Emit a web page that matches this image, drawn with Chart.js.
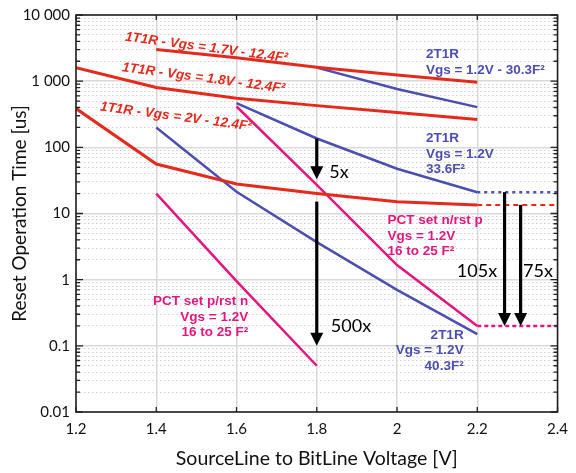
<!DOCTYPE html>
<html>
<head>
<meta charset="utf-8">
<script src="https://cdn.jsdelivr.net/npm/chart.js@4/dist/chart.umd.min.js"></script>
<style>
  body { margin: 0; background: #fff; }
  canvas { display: block; }
</style>
</head>
<body>
<canvas id="resetChart" width="576" height="473"></canvas>
<script>
// values
const xRed17 = [1.4, 1.6, 1.8, 2.0, 2.2];
const yRed17 = [3000, 2250, 1620, 1240, 965];
const xRed18 = [1.2, 1.4, 1.6, 1.8, 2.0, 2.2];
const yRed18 = [1600, 805, 550, 427, 335, 264];
const xRed20 = [1.2, 1.4, 1.6, 1.8, 2.0, 2.2];
const yRed20 = [385, 56, 28, 20, 15, 13.5];

const xBlue30 = [1.8, 2.0, 2.2];
const yBlue30 = [1600, 760, 405];
const xBlue33 = [1.6, 1.8, 2.0, 2.2];
const yBlue33 = [465, 136, 47.4, 21];
const xBlue40 = [1.4, 1.6, 1.8, 2.0, 2.2];
const yBlue40 = [200, 21.3, 3.7, 0.7, 0.15];

const xPctN = [1.6, 1.8, 2.0, 2.2];
const yPctN = [414, 27, 1.66, 0.2];
const xPctP = [1.4, 1.6, 1.8];
const yPctP = [20, 0.95, 0.05];

// flat extensions to the right of 2.2 V
const xExt = [2.2, 2.4];
const yExtBlue = [21, 21];
const yExtRed = [13.5, 13.5];
const yExtPink = [0.2, 0.2];

// arrows: x, start value, tip value
const arrowX = [1.8, 1.8, 2.268, 2.308];
const arrowFrom = [136, 15.1, 21, 13.5];
const arrowTo = [33, 0.1, 0.2, 0.2];

const xTicks = [1.2, 1.4, 1.6, 1.8, 2.0, 2.2, 2.4];
const yDecades = [0.01, 0.1, 1, 10, 100, 1000, 10000];
const yDecadeLabels = ['0.01', '0.1', '1', '10', '100', '1 000', '10 000'];

const RED = '#e42a1c';
const BLUE = '#4c4eb0';
const PINK = '#e3167f';

// every 1..9 x 10^n value between 0.01 and 10000
const yTickValues = [];
for (let i = 0; i < yDecades.length; i++) {
    if (i === yDecades.length - 1) { yTickValues.push(yDecades[i]); break; }
    for (let m = 1; m <= 9; m++) yTickValues.push(+(m * yDecades[i]).toPrecision(3));
}

function isDecade(v) {
    return yDecades.some(d => Math.abs(v - d) / d < 1e-6);
}

function pts(xs, ys) {
    return xs.map((x, i) => ({ x: x, y: ys[i] }));
}

function line(xs, ys, color, width, dash) {
    return {
        data: pts(xs, ys),
        borderColor: color,
        borderWidth: width,
        borderDash: dash || [],
        pointRadius: 0,
        tension: 0,
        fill: false
    };
}

// text annotations, anchored in data coordinates
const notes = [
    { x: 1.525, y: 3210, lines: ['1T1R - Vgs = 1.7V - 12.4F²'], color: RED, align: 'center', italic: true, rot: 7.5 },
    { x: 1.518, y: 1110, lines: ['1T1R - Vgs = 1.8V - 12.4F²'], color: RED, align: 'center', italic: true, rot: 7.5 },
    { x: 1.449, y: 290, lines: ['1T1R - Vgs = 2V - 12.4F²'], color: RED, align: 'center', italic: true, rot: 7.5 },
    { x: 2.072, y: 2530, lines: ['2T1R', 'Vgs = 1.2V - 30.3F²'], color: BLUE, align: 'left' },
    { x: 2.072, y: 136, lines: ['2T1R', 'Vgs = 1.2V', '33.6F²'], color: BLUE, align: 'left' },
    { x: 2.166, y: 0.146, lines: ['2T1R', 'Vgs = 1.2V', '40.3F²'], color: BLUE, align: 'right' },
    { x: 1.976, y: 7.87, lines: ['PCT set n/rst p', 'Vgs = 1.2V', '16 to 25 F²'], color: PINK, align: 'left' },
    { x: 1.629, y: 0.47, lines: ['PCT set p/rst n', 'Vgs = 1.2V', '16 to 25 F²'], color: PINK, align: 'right' }
];
const ratioLabels = [
    { x: 1.831, y: 42.4, text: '5x' },
    { x: 1.835, y: 0.2, text: '500x' },
    { x: 2.149, y: 1.36, text: '105x' },
    { x: 2.314, y: 1.36, text: '75x' }
];

const overlayPlugin = {
    id: 'overlay',
    afterDatasetsDraw(chart) {
        const ctx = chart.ctx;
        const xs = chart.scales.x, ys = chart.scales.y;
        const area = chart.chartArea;
        ctx.save();

        // arrows
        ctx.strokeStyle = '#000';
        ctx.fillStyle = '#000';
        ctx.lineWidth = 3.2;
        for (let i = 0; i < arrowX.length; i++) {
            const px = xs.getPixelForValue(arrowX[i]);
            const y1 = ys.getPixelForValue(arrowFrom[i]);
            const y2 = ys.getPixelForValue(arrowTo[i]);
            ctx.beginPath();
            ctx.moveTo(px, y1);
            ctx.lineTo(px, y2 - 12);
            ctx.stroke();
            ctx.beginPath();
            ctx.moveTo(px - 6.5, y2 - 13);
            ctx.lineTo(px + 6.5, y2 - 13);
            ctx.lineTo(px, y2);
            ctx.closePath();
            ctx.fill();
        }

        ctx.font = '18px Lato';
        ctx.textAlign = 'left';
        ctx.textBaseline = 'middle';
        ratioLabels.forEach(l => {
            ctx.fillText(l.text, xs.getPixelForValue(l.x), ys.getPixelForValue(l.y));
        });

        // series notes
        notes.forEach(n => {
            const px = xs.getPixelForValue(n.x);
            const py = ys.getPixelForValue(n.y);
            ctx.save();
            ctx.translate(px, py);
            if (n.rot) ctx.rotate(n.rot * Math.PI / 180);
            ctx.fillStyle = n.color;
            ctx.font = (n.italic ? 'italic ' : '') + 'bold 13.5px "Liberation Sans", Arial';
            ctx.textAlign = n.align;
            ctx.textBaseline = 'middle';
            n.lines.forEach((t, i) => ctx.fillText(t, 0, i * 15.5));
            ctx.restore();
        });

        // frame and inward ticks
        ctx.strokeStyle = '#222';
        ctx.lineWidth = 1.6;
        ctx.strokeRect(area.left, area.top, area.right - area.left, area.bottom - area.top);
        ctx.lineWidth = 1.3;
        ctx.beginPath();
        yTickValues.forEach(v => {
            const py = ys.getPixelForValue(v);
            const len = isDecade(v) ? 7 : 4;
            ctx.moveTo(area.left, py); ctx.lineTo(area.left + len, py);
            ctx.moveTo(area.right, py); ctx.lineTo(area.right - len, py);
        });
        xTicks.forEach(v => {
            const px = xs.getPixelForValue(v);
            ctx.moveTo(px, area.top); ctx.lineTo(px, area.top + 5);
            ctx.moveTo(px, area.bottom); ctx.lineTo(px, area.bottom - 5);
        });
        ctx.stroke();
        ctx.restore();
    }
};

function drawChart() {
    const ctx = document.getElementById('resetChart').getContext('2d');

    new Chart(ctx, {
        type: 'line',
        data: {
            datasets: [
                line(xRed17, yRed17, RED, 3),
                line(xRed18, yRed18, RED, 3),
                line(xRed20, yRed20, RED, 3),
                line(xBlue30, yBlue30, BLUE, 2.5),
                line(xBlue33, yBlue33, BLUE, 2.5),
                line(xBlue40, yBlue40, BLUE, 2.5),
                line(xPctN, yPctN, PINK, 2.5),
                line(xPctP, yPctP, PINK, 2.5),
                line(xExt, yExtBlue, BLUE, 2.5, [3, 4]),
                line(xExt, yExtRed, RED, 2, [5, 4]),
                line(xExt, yExtPink, PINK, 2.5, [4, 3])
            ]
        },
        options: {
            responsive: false,
            animation: false,
            layout: { padding: { top: 10, right: 13, left: 0, bottom: 0 } },
            plugins: {
                legend: { display: false },
                tooltip: { enabled: false }
            },
            scales: {
                x: {
                    type: 'linear',
                    min: 1.2,
                    max: 2.4,
                    afterBuildTicks: s => { s.ticks = xTicks.map(v => ({ value: v })); },
                    afterFit: s => { s.height = 61; },
                    ticks: {
                        autoSkip: false,
                        padding: 8,
                        color: '#111',
                        font: { family: 'Lato', size: 15 },
                        callback: v => String(Math.round(v * 10) / 10)
                    },
                    grid: { color: '#d9d9d9', lineWidth: 1.5, drawTicks: false },
                    border: { display: false },
                    title: {
                        display: true,
                        text: 'SourceLine to BitLine Voltage [V]',
                        color: '#111',
                        font: { family: 'Lato', size: 19.5 },
                        padding: { top: 0, bottom: 3 }
                    }
                },
                y: {
                    type: 'logarithmic',
                    min: 0.01,
                    max: 10000,
                    afterBuildTicks: s => { s.ticks = yTickValues.map(v => ({ value: v })); },
                    afterFit: s => { s.width = 76; },
                    ticks: {
                        autoSkip: false,
                        padding: 6,
                        color: '#111',
                        font: { family: 'Lato', size: 15 },
                        callback: v => {
                            const i = yDecades.findIndex(d => Math.abs(v - d) / d < 1e-6);
                            return i >= 0 ? yDecadeLabels[i] : '';
                        }
                    },
                    grid: {
                        drawTicks: false,
                        color: c => isDecade(c.tick.value) ? '#d9d9d9' : '#d0d0d0',
                        lineWidth: c => isDecade(c.tick.value) ? 1.5 : 1
                    },
                    border: {
                        display: false,
                        dash: c => (c.tick && isDecade(c.tick.value)) ? [] : [1.5, 2.5]
                    },
                    title: {
                        display: true,
                        text: 'Reset Operation Time [us]',
                        color: '#111',
                        font: { family: 'Lato', size: 19 },
                        padding: { top: 8, bottom: 0 }
                    }
                }
            }
        },
        plugins: [overlayPlugin]
    });
}

drawChart();
</script>
</body>
</html>
